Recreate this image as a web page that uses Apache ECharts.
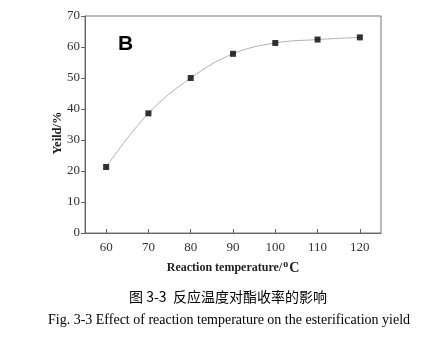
<!DOCTYPE html>
<html><head><meta charset="utf-8">
<script src="https://cdn.jsdelivr.net/npm/echarts@6/dist/echarts.min.js"></script>
<style>html,body{margin:0;padding:0;background:#fff}#c{width:437px;height:337px}</style>
</head><body><div id="c"></div>
<script>
const temperatures = [60, 70, 80, 90, 100, 110, 120];
const yields = [21.3, 38.6, 50.0, 57.8, 61.3, 62.4, 63.1];
const yTicks = [0, 10, 20, 30, 40, 50, 60, 70];
const xTicks = [60, 70, 80, 90, 100, 110, 120];

const pts = temperatures.map((t, i) => [t, yields[i]]);
const chart = echarts.init(document.getElementById('c'));
const serif = '"Liberation Serif", "Times New Roman", serif';
chart.setOption({
  animation: false,
  grid: { left: 85, right: 56, top: 16, bottom: 104, show: true, borderColor: '#777', borderWidth: 1 },
  xAxis: {
    type: 'value', min: 55, max: 125, interval: 5,
    axisLine: { show: true, lineStyle: { color: '#666' } },
    axisTick: { show: true, inside: true, length: 4, lineStyle: { color: '#666' },
      customValues: xTicks },
    axisLabel: { color: '#333', fontFamily: serif, fontSize: 13, margin: 8,
      customValues: xTicks },
    splitLine: { show: false }
  },
  yAxis: {
    type: 'value', min: 0, max: 70, interval: 10,
    axisLine: { show: true, lineStyle: { color: '#666' } },
    axisTick: { show: true, inside: false, length: 4, lineStyle: { color: '#666' },
      customValues: yTicks },
    axisLabel: { color: '#333', fontFamily: serif, fontSize: 13, margin: 5,
      customValues: yTicks },
    splitLine: { show: false }
  },
  series: [
    { type: 'line', data: pts, smooth: 0.4, showSymbol: false, symbol: 'none',
      lineStyle: { color: '#b0b0b0', width: 1 }, z: 1 },
    { type: 'scatter', data: pts, symbol: 'rect', symbolSize: 6,
      itemStyle: { color: '#000' }, z: 3 }
  ],
  graphic: [
    { type: 'text', left: 118, top: 34, style: { text: 'B', fontFamily: '"Liberation Sans", Arial, sans-serif', fontWeight: 'bold', fontSize: 21, fill: '#000' } },
    { type: 'text', x: 58, y: 133, rotation: Math.PI / 2,
      style: { text: 'Yeild/%', fontFamily: serif, fontWeight: 'bold', fontSize: 12.5, fill: '#222', align: 'center', verticalAlign: 'middle' } },
    { type: 'text', x: 233, y: 268,
      style: { rich: { b: { fontFamily: serif, fontWeight: 'bold', fontSize: 12, fill: '#222' }, s: { fontFamily: serif, fontWeight: 'bold', fontSize: 10, fill: '#222', verticalAlign: 'top', padding:[0,1,7,1] }, c: { fontFamily: serif, fontWeight: 'bold', fontSize: 14, fill: '#222' } },
        text: '{b|Reaction temperature/}{s|o}{c|C}', align: 'center', verticalAlign: 'middle' } },
    { type: 'text', x: 228, y: 297,
      style: { text: '图 3-3  反应温度对酯收率的影响', fontFamily: '"Noto Sans CJK SC", sans-serif', fontSize: 14, fill: '#000', align: 'center', verticalAlign: 'middle' } },
    { type: 'text', x: 229, y: 320,
      style: { text: 'Fig. 3-3 Effect of reaction temperature on the esterification yield', fontFamily: serif, fontSize: 14, fill: '#000', align: 'center', verticalAlign: 'middle' } }
  ]
});
</script></body></html>
